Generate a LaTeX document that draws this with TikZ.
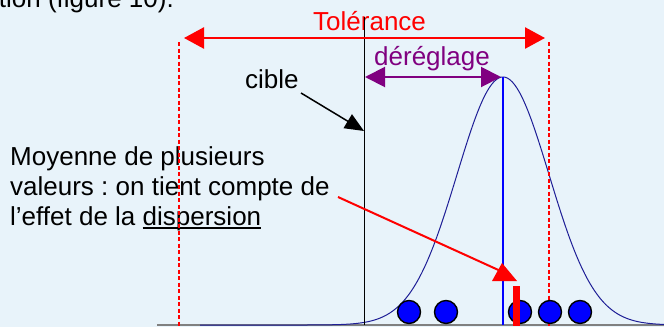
\documentclass[tikz,border=0pt]{standalone}
\usepackage{fontspec}
\setmainfont{Liberation Sans}
\usetikzlibrary{arrows.meta}
\definecolor{bg}{RGB}{232,243,250}
\definecolor{navy}{RGB}{30,30,150}
\definecolor{purp}{RGB}{128,0,128}
\newcommand\myul[1]{\setbox0\hbox{#1}\rlap{\rule[-4pt]{\wd0}{1.8pt}}#1}
\frenchspacing
\begin{document}
\begin{tikzpicture}[x=1pt,y=-1pt,
  txt/.style={inner sep=0pt, font=\fontsize{26}{30}\selectfont},
  reddash/.style={red, dash pattern=on 4pt off 2.5pt},
  dot/.style={circle, fill={rgb,255:red,0;green,0;blue,255}, draw=black, line width=1.4pt, minimum size=23pt, inner sep=0pt}]
\useasboundingbox (0,0) rectangle (664,327);
\fill[bg] (0,0) rectangle (664,327);
\begin{scope}
\clip (0,0) rectangle (664,327);
% partial top text
\node[txt, anchor=base east] (top) at (174,7) {tion (figure 10).};
% base line
\coordinate (b0) at (157,325);
\coordinate (b1) at (664,325);
\draw[gray, line width=2pt] (b0) -- (b1);
% gaussian
\draw[navy, line width=1pt, domain=200:664, samples=200, smooth]
  plot (\x, {325-248*exp(-0.5*((\x-503)/46)^2)});
% mean line
\coordinate (pk) at (503,77);
\coordinate (pkb) at (503,325);
\draw[blue, line width=2pt] (pk) -- (pkb);
% texts
\node[txt, anchor=base west, text=red] (tol) at (313,30) {Tolérance};
\node[txt, anchor=base west, text=purp] (dereg) at (374,65) {déréglage};
\node[txt, anchor=base west] (cible) at (245,88) {cible};
\node[txt, anchor=base west, align=left] (moy) at (10,225)
  {Moyenne de plusieurs\\valeurs : on tient compte de\\l’effet de la \myul{dispersion}};
% cible line
\coordinate (c0) at (364,17);
\coordinate (c1) at (364,325);
\draw[black, line width=1pt] (c0) -- (c1);
% tolerance limits
\coordinate (l0) at (179,42);
\coordinate (l1) at (179,330);
\coordinate (r0) at (549,42);
\coordinate (r1) at (549,330);
\draw[reddash, line width=2.6pt] (l0) -- (l1);
\draw[reddash, line width=1.6pt] (r0) -- (r1);
% tolerance arrow
\coordinate (tl) at (184,38);
\coordinate (tr) at (545,38);
\draw[red, line width=2.5pt, {Triangle[length=20pt,width=21pt]}-{Triangle[length=20pt,width=21pt]}] (tl) -- (tr);
% dereglage arrow
\coordinate (dl) at (365,77);
\coordinate (dr) at (501,77);
\draw[purp, line width=2pt, {Triangle[length=20pt,width=20pt]}-{Triangle[length=20pt,width=20pt]}] (dl) -- (dr);
% cible arrow
\coordinate (cs) at (301,93);
\coordinate (ct) at (364,131);
\draw[black, line width=1.5pt, -{Triangle[length=19pt,width=16pt]}] (cs) -- (ct);
% dots
\node[dot] (d1) at (409,312) {};
\node[dot] (d2) at (446,312) {};
\node[dot] (d3) at (520,312) {};
\node[dot] (d4) at (550,312) {};
\node[dot] (d5) at (580,312) {};
% red mean bar
\fill[red] (513,286) rectangle (520,326);
% red arrow
\coordinate (ms) at (338,197);
\coordinate (me) at (505,273);
\draw[red, line width=2pt] (ms) -- (me);
\fill[red] (502,263) -- (517,281) -- (492,281) -- cycle;
\end{scope}
\end{tikzpicture}
\end{document}
